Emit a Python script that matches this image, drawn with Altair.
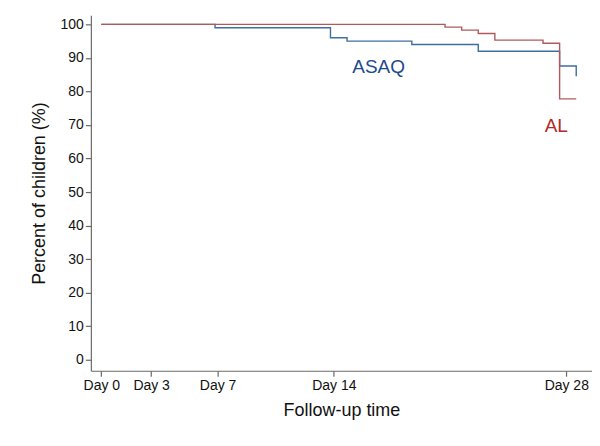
import altair as alt
import pandas as pd

# Kaplan-Meier style step curves (day, percent)
asaq_days = [0, 6.85, 13.8, 14.8, 18.7, 22.7, 27.6, 28.6]
asaq_pct = [100, 99.0, 96.0, 95.0, 94.0, 92.0, 87.6, 84.5]

al_days = [0, 20.7, 21.7, 22.7, 23.7, 26.6, 27.6, 28.6]
al_pct = [100, 99.2, 98.3, 97.3, 95.3, 94.4, 77.8, 77.8]

x_ticks = [0, 3, 7, 14, 28]
y_ticks = [0, 10, 20, 30, 40, 50, 60, 70, 80, 90, 100]

label_names = ["ASAQ", "AL"]
label_days = [16.7, 27.4]
label_pct = [87.3, 69.8]

line_colors = {"ASAQ": "#3f6f9f", "AL": "#b05a5c"}
text_colors = {"ASAQ": "#1d4a8c", "AL": "#b02a2a"}

rows = []
for d, p in zip(asaq_days, asaq_pct):
    rows.append({"day": d, "pct": p, "arm": "ASAQ"})
for d, p in zip(al_days, al_pct):
    rows.append({"day": d, "pct": p, "arm": "AL"})
df = pd.DataFrame(rows)

labels = pd.DataFrame({"arm": label_names, "day": label_days, "pct": label_pct})

xscale = alt.Scale(domain=[-0.63, 29.55], nice=False, zero=False)
yscale = alt.Scale(domain=[-3.3, 102.7], nice=False, zero=False)

label_expr = "'Day ' + datum.value"

common = dict(
    grid=False, tickSize=5.5, labelPadding=2, labelOverlap=False,
    labelFont="Liberation Sans", titleFont="Liberation Sans",
    labelFontSize=14, titleFontSize=18, titleFontWeight="normal",
    labelColor="#111", titleColor="#111",
    domainColor="#6a6a6a", tickColor="#6a6a6a", domainWidth=1.2, tickWidth=1.2,
)


def x_enc():
    return alt.X("day:Q", scale=xscale,
                 axis=alt.Axis(values=x_ticks, labelExpr=label_expr,
                               title="Follow-up time", titlePadding=9, **common))


def y_enc():
    return alt.Y("pct:Q", scale=yscale,
                 axis=alt.Axis(values=y_ticks, title="Percent of children (%)",
                               titlePadding=12, **common))


color_scale = alt.Scale(domain=list(line_colors.keys()), range=list(line_colors.values()))
text_scale = alt.Scale(domain=list(text_colors.keys()), range=list(text_colors.values()))

lines = alt.Chart(df).mark_line(interpolate="step-after", strokeWidth=1.4).encode(
    x=x_enc(),
    y=y_enc(),
    color=alt.Color("arm:N", scale=color_scale, legend=None),
    detail="arm:N",
)

texts = alt.Chart(labels).mark_text(fontSize=19, font="Liberation Sans",
                                    align="center", baseline="middle").encode(
    x=x_enc(),
    y=y_enc(),
    text="arm:N",
    color=alt.Color("arm:N", scale=text_scale, legend=None),
)

chart = alt.layer(lines, texts).resolve_scale(color="independent").properties(
    width=502, height=356,
    background="white",
    autosize=alt.AutoSizeParams(type="none"),
    padding={"left": 83, "top": 7, "right": 0, "bottom": 60},
).configure_view(stroke=None)

chart.save("out.html", embed_options={"renderer": "svg", "actions": False})
